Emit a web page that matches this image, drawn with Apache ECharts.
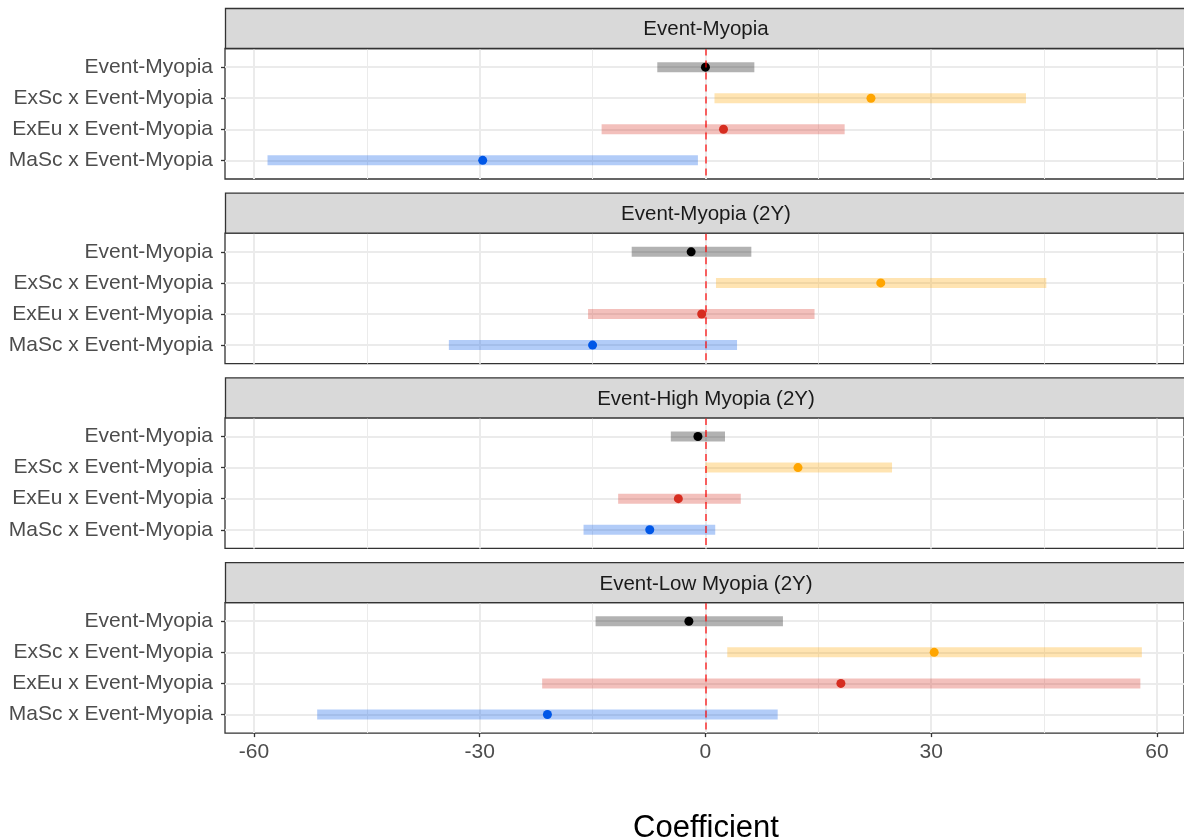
<!DOCTYPE html>
<html>
<head>
<meta charset="utf-8">
<script src="https://cdn.jsdelivr.net/npm/echarts@6/dist/echarts.min.js"></script>
<style>
  html, body { margin: 0; padding: 0; background: #ffffff; }
  #chart { width: 1184px; height: 840px; }
</style>
</head>
<body>
<div id="chart"></div>
<script>
// ---------------- data ----------------
const panelTitles = ['Event-Myopia', 'Event-Myopia (2Y)', 'Event-High Myopia (2Y)', 'Event-Low Myopia (2Y)'];
const termLabels = ['Event-Myopia', 'ExSc x Event-Myopia', 'ExEu x Event-Myopia', 'MaSc x Event-Myopia'];
// one row per panel, columns follow termLabels
const estimates = [
  [0.0, 22.0, 2.4, -29.6],
  [-1.9, 23.3, -0.5, -15.0],
  [-1.0, 12.3, -3.6, -7.4],
  [-2.2, 30.4, 18.0, -21.0]
];
const lowerCI = [
  [-6.4, 1.2, -13.8, -58.2],
  [-9.8, 1.4, -15.6, -34.1],
  [-4.6, 0.0, -11.6, -16.2],
  [-14.6, 2.9, -21.7, -51.6]
];
const upperCI = [
  [6.5, 42.6, 18.5, -1.0],
  [6.1, 45.3, 14.5, 4.2],
  [2.6, 24.8, 4.7, 1.3],
  [10.3, 58.0, 57.8, 9.6]
];
const xTicks = [-60, -30, 0, 30, 60];
const xMinorTicks = [-45, -15, 15, 45];
const pointColors = ['#000000', '#FFA500', '#D62D20', '#0057E7'];
const barColors = ['rgba(0,0,0,0.3)', 'rgba(255,165,0,0.3)', 'rgba(214,45,32,0.3)', 'rgba(0,87,231,0.3)'];

// ---------------- layout ----------------
const FONT = 'Arial, "Liberation Sans", sans-serif';
const xMin = -63.85, xMax = 63.6;
const gridLeft = 225, gridRight = -3;
const stripTop0 = 8, stripH = 40.5, panelH = 130.5, step = 184.7;

const chart = echarts.init(document.getElementById('chart'), null, { renderer: 'canvas' });

const grids = [], xAxes = [], yAxes = [], series = [], graphics = [];
for (let i = 0; i < panelTitles.length; i++) {
  const sTop = stripTop0 + i * step;
  const gTop = sTop + stripH;
  const isLast = i === panelTitles.length - 1;
  grids.push({
    left: gridLeft, right: gridRight, top: gTop, height: panelH,
    show: true, borderColor: '#333333', borderWidth: 1.3, backgroundColor: '#ffffff'
  });
  graphics.push({
    type: 'rect', z: 10,
    shape: { x: gridLeft + 0.5, y: sTop + 0.5, width: 1184 - gridLeft + 5, height: stripH - 0.5 },
    style: { fill: '#D9D9D9', stroke: '#333333', lineWidth: 1.3 }
  });
  graphics.push({
    type: 'text', z: 11,
    x: (gridLeft + 1184 + 3) / 2, y: sTop + stripH / 2 + 1.5,
    style: { text: panelTitles[i], fontSize: 20.5, fontFamily: FONT, fill: '#1A1A1A',
             textAlign: 'center', textVerticalAlign: 'middle' }
  });
  xAxes.push({
    type: 'value', gridIndex: i, min: xMin, max: xMax, position: 'bottom',
    axisLine: { show: false, onZero: false },
    axisTick: { show: isLast, customValues: xTicks, length: 4, lineStyle: { color: '#333333', width: 1.3 } },
    axisLabel: { show: isLast, customValues: xTicks, fontSize: 21, fontFamily: FONT, color: '#4D4D4D', margin: 9 },
    splitLine: { show: true, lineStyle: { color: '#EBEBEB', width: 2 } }
  });
  yAxes.push({
    type: 'value', gridIndex: i, min: 0.4, max: 4.6, inverse: true, position: 'left',
    axisLine: { show: false, onZero: false },
    axisTick: { show: true, customValues: [1, 2, 3, 4], length: 4, lineStyle: { color: '#333333', width: 1.3 } },
    axisLabel: {
      customValues: [1, 2, 3, 4], fontSize: 21, fontFamily: FONT, color: '#4D4D4D', margin: 12,
      padding: [11, 0, 0, 0],
      formatter: v => termLabels[Math.round(v) - 1]
    },
    splitLine: { show: true, lineStyle: { color: '#EBEBEB', width: 2 } }
  });

  const barData = termLabels.map((t, k) => [lowerCI[i][k], upperCI[i][k], k + 1]);
  series.push({
    type: 'custom', xAxisIndex: i, yAxisIndex: i, z: 2, silent: true,
    encode: { x: [0, 1], y: 2 },
    data: barData,
    renderItem: function (params, api) {
      const a = api.coord([api.value(0), api.value(2)]);
      const b = api.coord([api.value(1), api.value(2)]);
      const h = 10;
      return {
        type: 'rect',
        shape: { x: a[0], y: a[1] - h / 2, width: b[0] - a[0], height: h },
        style: { fill: barColors[params.dataIndex] }
      };
    }
  });
  series.push({
    type: 'scatter', xAxisIndex: i, yAxisIndex: i, z: 3, silent: true, data: [],
    markLine: {
      silent: true, symbol: 'none', animation: false,
      label: { show: false },
      lineStyle: { color: 'rgba(255,0,0,0.75)', width: 1.6, type: [7, 5] },
      data: [{ xAxis: 0 }]
    }
  });
  series.push({
    type: 'scatter', xAxisIndex: i, yAxisIndex: i, z: 4, silent: true,
    symbolSize: 9,
    data: termLabels.map((t, k) => ({ value: [estimates[i][k], k + 1], itemStyle: { color: pointColors[k], opacity: 1 } }))
  });
}
// minor vertical grid lines
for (let i = 0; i < panelTitles.length; i++) {
  xAxes.push({
    type: 'value', gridIndex: i, min: xMin, max: xMax, position: 'bottom',
    axisLine: { show: false, onZero: false },
    axisTick: { show: false, customValues: xMinorTicks },
    axisLabel: { show: false, customValues: xMinorTicks },
    splitLine: { show: true, lineStyle: { color: '#EBEBEB', width: 1 } }
  });
}

graphics.push({
  type: 'text', x: 706, y: 828,
  style: { text: 'Coefficient', fontSize: 31, fontFamily: FONT, fill: '#000000',
           textAlign: 'center', textVerticalAlign: 'middle' }
});

chart.setOption({
  animation: false,
  backgroundColor: '#ffffff',
  grid: grids,
  xAxis: xAxes,
  yAxis: yAxes,
  series: series,
  graphic: graphics
});
</script>
</body>
</html>
